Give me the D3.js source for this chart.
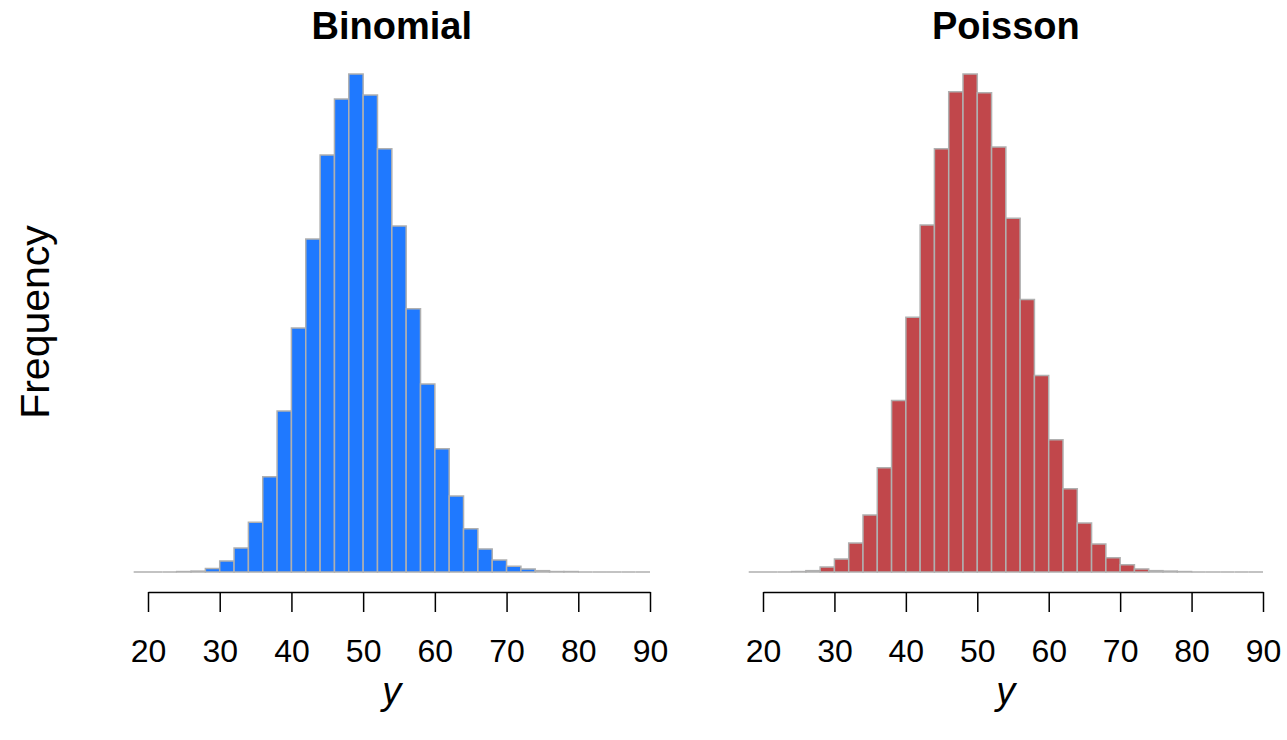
<!DOCTYPE html>
<html>
<head>
<meta charset="utf-8">
<script src="https://cdn.jsdelivr.net/npm/d3@7"></script>
<style>
  html, body { margin: 0; padding: 0; background: #ffffff; }
  svg { display: block; }
  text { font-family: "Liberation Sans", Arial, Helvetica, sans-serif; fill: #000; }
</style>
</head>
<body>
<svg id="chart" width="1287" height="740"></svg>
<script>
// Histogram bin edges (width 2, from 18 to 90)
const binEdges = d3.range(18, 91, 2);

// Frequencies per bin, 18-20 ... 88-90
const binomialCounts = [
  0, 0, 0, 1, 2, 8, 25, 54, 112, 214,
  362, 549, 749, 938, 1064, 1120, 1073, 952, 778, 592,
  423, 277, 171, 97, 52, 27, 13, 7, 3, 1,
  1, 0, 0, 0, 0, 0
];
const poissonCounts = [
  0, 0, 0, 1, 3, 11, 29, 65, 128, 234,
  385, 572, 779, 950, 1078, 1118, 1076, 954, 794, 612,
  441, 297, 187, 110, 63, 32, 16, 7, 3, 2,
  1, 0, 0, 0, 0, 0
];

// Axis tick values and panel titles
const xTicks = [20, 30, 40, 50, 60, 70, 80, 90];
const panelTitles = ["Binomial", "Poisson"];
const panelCounts = [binomialCounts, poissonCounts];
const panelFills = ["#1F79FF", "#C1474B"];

// Layout
const layout = [
  { left: 148, right: 650 },
  { left: 763, right: 1263 }
];
const baseY = 572, topY = 74, axisY = 592;

const svg = d3.select("#chart");
svg.append("rect").attr("width", 1287).attr("height", 740).attr("fill", "#ffffff");

panelTitles.forEach((title, i) => {
  const counts = panelCounts[i];
  const bins = counts.map((c, k) => ({ x0: binEdges[k], x1: binEdges[k + 1], n: c }));

  const x = d3.scaleLinear().domain([20, 90]).range([layout[i].left, layout[i].right]);
  const y = d3.scaleLinear().domain([0, d3.max(counts)]).range([baseY, topY]);

  const g = svg.append("g");

  // Bars drawn as closed paths so empty bins still show as a line on the baseline
  g.selectAll("path.bar")
    .data(bins)
    .join("path")
    .attr("class", "bar")
    .attr("d", d => `M${x(d.x0)},${y(0)}V${y(d.n)}H${x(d.x1)}V${y(0)}Z`)
    .attr("fill", panelFills[i])
    .attr("stroke", "#b0b0b0")
    .attr("stroke-width", 1.5);

  // x axis
  const axis = d3.axisBottom(x)
    .tickValues(xTicks)
    .tickSize(20)
    .tickSizeOuter(0)
    .tickPadding(27);
  const ax = g.append("g")
    .attr("transform", `translate(0,${axisY})`)
    .call(axis);
  ax.select(".domain").attr("stroke", "#000").attr("stroke-width", 1.5);
  ax.selectAll(".tick line").attr("stroke", "#000").attr("stroke-width", 1.5);
  ax.selectAll(".tick text")
    .attr("font-size", 32)
    .attr("font-family", "\"Liberation Sans\", Arial, Helvetica, sans-serif")
    .attr("fill", "#000");

  // Panel title, centred on the histogram's plot range
  const cx = x((binEdges[0] + binEdges[binEdges.length - 1]) / 2);
  g.append("text")
    .attr("x", cx)
    .attr("y", 39)
    .attr("text-anchor", "middle")
    .attr("font-size", 38)
    .attr("font-weight", "bold")
    .text(title);

  // x axis label
  g.append("text")
    .attr("x", cx)
    .attr("y", 704)
    .attr("text-anchor", "middle")
    .attr("font-size", 38)
    .attr("font-style", "italic")
    .text("y");
});

// Shared y axis label
svg.append("text")
  .attr("transform", "translate(49,322) rotate(-90)")
  .attr("text-anchor", "middle")
  .attr("font-size", 41)
  .text("Frequency");
</script>
</body>
</html>
